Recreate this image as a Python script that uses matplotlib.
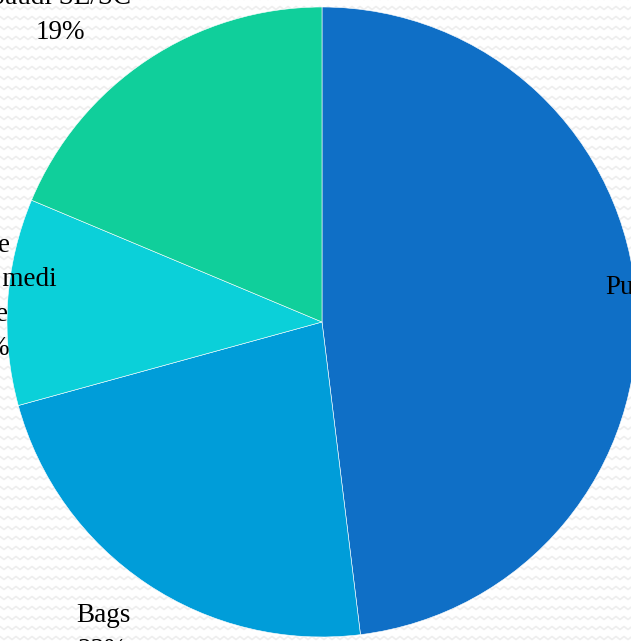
import numpy as np
import matplotlib
matplotlib.use('Agg')
import matplotlib.pyplot as plt

# slice data, clockwise from 12 o'clock
labels = ['Purchases', 'Bags', 'Free\nHomeo medi\ncine', 'Saudi SE/SC']
values = [48.1, 22.7, 10.6, 18.7]
pct_text = ['48%', '23%', '11%', '19%']
colors = ['#0F6FC6', '#009DD9', '#0BD0D9', '#10CF9B']

W, H = 631, 641
fig = plt.figure(figsize=(W / 100, H / 100), dpi=100)
ax = fig.add_axes([0, 0, 1, 1])

# faint zigzag background texture
xs = np.arange(-8, W + 8, 4)
for row in np.arange(3, H + 10, 10):
    ys = row + np.where((xs // 4) % 2 == 0, 1.5, -1.5)
    ax.plot(xs, ys, color='#eeeeee', lw=1.2, zorder=0)

wedges, _ = ax.pie(values, colors=colors, startangle=90, counterclock=False,
                   center=(322, 319), radius=315,
                   wedgeprops=dict(edgecolor='white', linewidth=0.4))
for w in wedges:
    w.set_zorder(2)

# label positions (pixel coords, y up)
label_pos = [(660, 336), (103, 8), (-14, 344), (60, 626)]
for lab, pct, (x, y) in zip(labels, pct_text, label_pos):
    ax.text(x, y, lab + '\n' + pct, ha='center', va='center',
            family='Liberation Serif', fontsize=19.5, linespacing=1.5,
            color='black', zorder=3)

ax.set_xlim(0, W)
ax.set_ylim(0, H)
ax.axis('off')
fig.savefig('out.png', dpi=100)
